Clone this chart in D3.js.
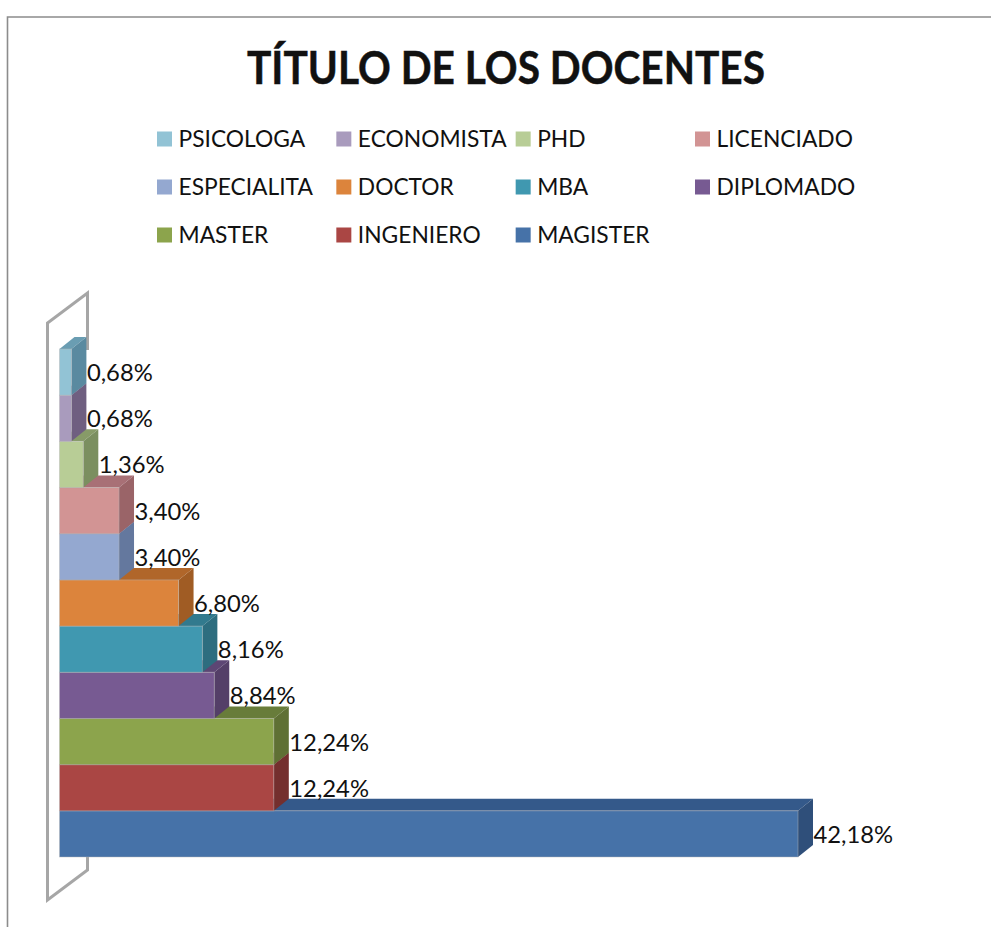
<!DOCTYPE html>
<html><head><meta charset="utf-8">
<script src="https://cdnjs.cloudflare.com/ajax/libs/d3/7.8.5/d3.min.js"></script>
<style>html,body{margin:0;padding:0;background:#fff}svg{display:block}text{font-family:Lato,"Open Sans",sans-serif;fill:#111}</style>
</head><body><svg id="c" width="991" height="927"></svg>
<script>
const chartTitle = "TÍTULO DE LOS DOCENTES";
const categories = ["PSICOLOGA","ECONOMISTA","PHD","LICENCIADO","ESPECIALITA","DOCTOR","MBA","DIPLOMADO","MASTER","INGENIERO","MAGISTER"];
const values = [0.68,0.68,1.36,3.40,3.40,6.80,8.16,8.84,12.24,12.24,42.18];
const frontColors = ["#92c3d5","#a99bbd","#b8cd96","#d29494","#94a8d0","#dc843c","#4098b0","#775a92","#8ca44c","#aa4644","#4672a8"];
const sideColors  = ["#5a8aa0","#6f5f80","#7b8f60","#9a6468","#64789e","#a05c24","#2d6d7f","#543f68","#5f7034","#742f2e","#2f4f7a"];
const topColors   = ["#6a9db2","#7f6e92","#879b68","#a87076","#6f86ac","#b0662a","#327a8e","#5d4674","#687c3a","#7f3533","#34598a"];

const svg = d3.select("#c");
const fmt = v => v.toFixed(2).replace(".", ",") + "%";
const depthX = 15, depthY = 12;
const x = d3.scaleLinear().domain([0, 42.18]).range([59.5, 798]);
const y = d3.scaleBand().domain(categories).range([349, 857]);

svg.append("path").attr("d","M7.5,927V17H991").attr("fill","none").attr("stroke","#8c8c8c").attr("stroke-width",1.6);

svg.append("text").attr("x",506).attr("y",84).attr("text-anchor","middle")
  .attr("font-size",46).attr("font-weight",700).attr("stroke","#111").attr("stroke-width",0.5)
  .attr("textLength",518).attr("lengthAdjust","spacingAndGlyphs").text(chartTitle);

const legX = d3.scalePoint().domain([0,1,2,3]).range([157,695]);
const legY = d3.scalePoint().domain([0,1,2]).range([139,235]);
const leg = svg.append("g").selectAll("g").data(categories).join("g")
  .attr("transform",(d,i)=>`translate(${legX(i%4)},${legY(Math.floor(i/4))})`);
leg.append("rect").attr("y",-7.5).attr("width",15).attr("height",15).attr("fill",(d,i)=>frontColors[i]);
leg.append("text").attr("transform","translate(21.5,8) scale(0.95,1)").attr("font-size",24).text(d=>d);

svg.append("path").attr("d",`M87.5,350V293L47.5,323V900L87.5,870V857`)
  .attr("fill","none").attr("stroke","#a6a6a6").attr("stroke-width",3);

const order = d3.range(categories.length).reverse();
const bars = svg.append("g").selectAll("g").data(order).join("g");
bars.append("path").attr("fill",i=>topColors[i]).attr("d",i=>{
  const x0=x(0),x1=x(values[i]),t=y(categories[i]);
  return `M${x0},${t}L${x0+depthX},${t-depthY}H${x1+depthX}L${x1},${t}Z`;});
bars.append("path").attr("fill",i=>sideColors[i]).attr("d",i=>{
  const x1=x(values[i]),t=y(categories[i]),b=t+y.bandwidth();
  return `M${x1},${t}L${x1+depthX},${t-depthY}V${b-depthY}L${x1},${b}Z`;});
bars.append("rect").attr("fill",i=>frontColors[i]).attr("stroke","#b5b5b5").attr("stroke-opacity",0.45).attr("stroke-width",1)
  .attr("x",x(0)).attr("y",i=>y(categories[i])).attr("width",i=>x(values[i])-x(0)).attr("height",y.bandwidth());

svg.append("g").selectAll("text").data(order).join("text")
  .attr("x",i=>x(values[i])+depthX+0.5).attr("y",i=>y(categories[i])+y.bandwidth()/2+9)
  .attr("font-size",23.8).text(i=>fmt(values[i]));
</script></body></html>
